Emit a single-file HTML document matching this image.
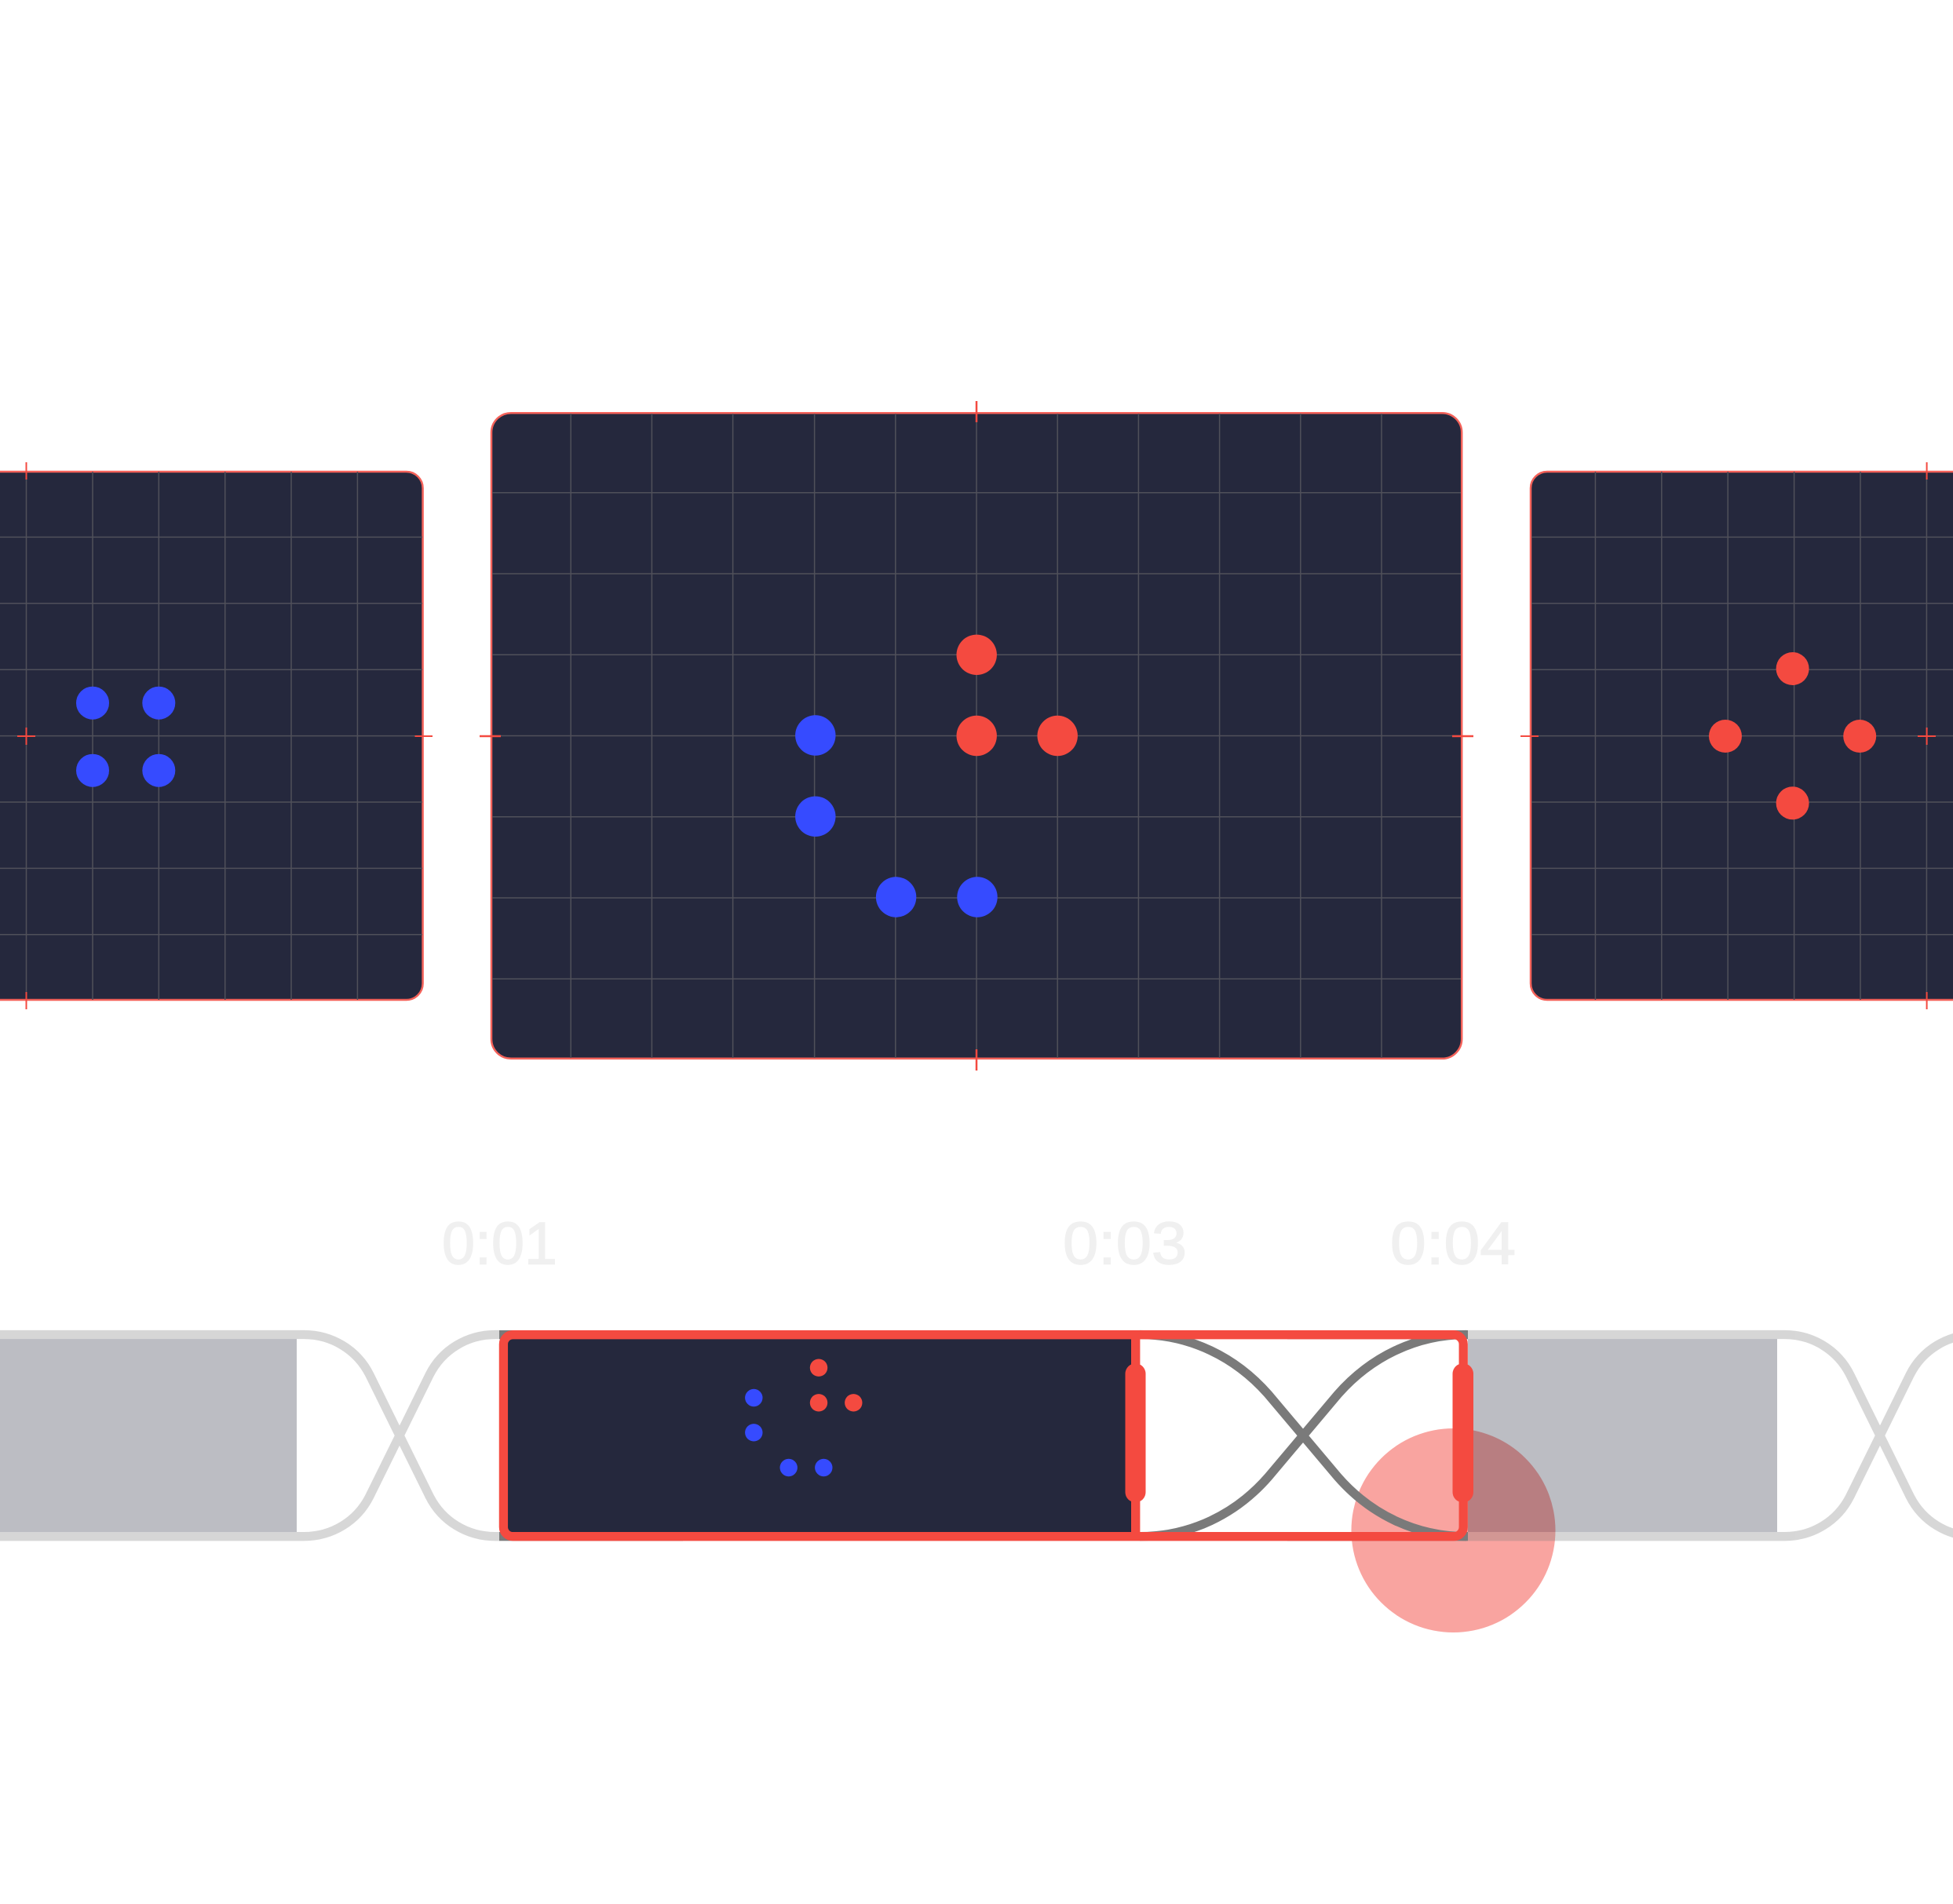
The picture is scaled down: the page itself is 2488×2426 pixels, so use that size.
<!DOCTYPE html>
<html><head><meta charset="utf-8"><style>
html,body{margin:0;padding:0;background:#fff}
svg{display:block}
text{font-family:"Liberation Sans",sans-serif;font-size:76px;fill:#f0f0f0;stroke:#f0f0f0;stroke-width:1.4px}
</style></head><body>
<svg width="2488" height="2426" viewBox="0 0 2488 2426" xmlns="http://www.w3.org/2000/svg">
<rect width="2488" height="2426" fill="#fff"/>

<!-- left panel -->
<rect x="-480" y="601" width="1018.6" height="673" rx="21" fill="#25283d" stroke="#f4625a" stroke-width="2.5"/>
<path fill="none" stroke="#50505a" stroke-width="1.5" d="M33.5 601V1274M118 601V1274M202.3 601V1274M286.7 601V1274M371 601V1274M455.4 601V1274M0 684.4H538M0 768.8H538M0 853.2H538M0 937.6H538M0 1022H538M0 1106.4H538M0 1190.8H538"/>
<g fill="#364bff"><circle cx="118" cy="895.7" r="21"/><circle cx="202.3" cy="895.7" r="21"/><circle cx="118" cy="981.7" r="21"/><circle cx="202.3" cy="981.7" r="21"/></g>
<path fill="none" stroke="#f44a40" stroke-width="2" d="M33.5 589V611M33.5 927V949M22 938H45M33.5 1264V1286M528.5 938H551"/>

<!-- center panel -->
<rect x="626" y="526.2" width="1236.2" height="822.6" rx="25" fill="#25283d" stroke="#f4625a" stroke-width="2.5"/>
<path fill="none" stroke="#50505a" stroke-width="1.5" d="M727.2 527V1348M830.4 527V1348M933.6 527V1348M1037.6 527V1348M1140.8 527V1348M1244 527V1348M1347.2 527V1348M1450.4 527V1348M1553.6 527V1348M1656.8 527V1348M1760 527V1348M627 627.7H1861M627 731H1861M627 834.3H1861M627 937.5H1861M627 1040.8H1861M627 1144H1861M627 1247.3H1861"/>
<g fill="#f44a40"><circle cx="1244.2" cy="834.3" r="25.7"/><circle cx="1244.2" cy="937.5" r="25.7"/><circle cx="1347.2" cy="937.5" r="25.7"/></g>
<g fill="#364bff"><circle cx="1038.8" cy="937" r="25.7"/><circle cx="1038.8" cy="1040.3" r="25.7"/><circle cx="1141.6" cy="1143" r="25.7"/><circle cx="1245" cy="1143" r="25.7"/></g>
<path fill="none" stroke="#f44a40" stroke-width="2.5" d="M1244 511V538M1244 1337V1364M611 938H638M1850 938H1877"/>

<!-- right panel -->
<rect x="1950" y="601" width="1018" height="673" rx="21" fill="#25283d" stroke="#f4625a" stroke-width="2.5"/>
<path fill="none" stroke="#50505a" stroke-width="1.5" d="M2032.4 601V1274M2116.8 601V1274M2201.2 601V1274M2285.6 601V1274M2370 601V1274M2454.4 601V1274M1951 684.4H2488M1951 768.8H2488M1951 853.2H2488M1951 937.6H2488M1951 1022H2488M1951 1106.4H2488M1951 1190.8H2488"/>
<g fill="#f44a40"><circle cx="2283.6" cy="852" r="21"/><circle cx="2198" cy="938" r="21"/><circle cx="2369.2" cy="938" r="21"/><circle cx="2283.6" cy="1023.3" r="21"/></g>
<path fill="none" stroke="#f44a40" stroke-width="2" d="M2454.6 589V611M2454.6 927V949M2443 938H2466M2454.6 1264V1286M1937 938H1960"/>

<!-- time labels -->
<text x="563" y="1610.5" textLength="147" lengthAdjust="spacingAndGlyphs">0:01</text>
<text x="1354" y="1610.5" textLength="158" lengthAdjust="spacingAndGlyphs">0:03</text>
<text x="1771" y="1610.5" textLength="160" lengthAdjust="spacingAndGlyphs">0:04</text>

<!-- pink circle under timeline -->
<circle cx="1851.5" cy="1950" r="130" fill="#f9a4a0"/>

<!-- faded segments -->
<g opacity=".3">
<rect x="0" y="1706" width="378" height="246" fill="#25283d"/>
<path fill="none" stroke="#7a7a7a" stroke-width="11.3" d="M0 1700.5H387C423 1700.5 455 1720 471 1752L547 1906.2C563 1938.2 595 1957.7 631 1957.7H636M0 1957.7H387C423 1957.7 455 1938.2 471 1906.2L547 1752C563 1720 595 1700.5 631 1700.5H636"/>
</g>
<g opacity=".3">
<rect x="1870" y="1706" width="394" height="246" fill="#25283d"/>
<path fill="none" stroke="#7a7a7a" stroke-width="11.3" d="M1870 1700.5H2273C2309 1700.5 2341 1720 2357 1752L2433 1906.2C2449 1938.2 2481 1957.7 2517 1957.7H2522M1870 1957.7H2273C2309 1957.7 2341 1938.2 2357 1906.2L2433 1752C2449 1720 2481 1700.5 2517 1700.5H2522"/>
</g>

<!-- selected segment -->
<rect x="636" y="1695" width="234" height="11.3" fill="#7a7a7a"/>
<rect x="636" y="1952" width="234" height="11.3" fill="#7a7a7a"/>
<rect x="1640" y="1695" width="230" height="11.3" fill="#7a7a7a"/>
<rect x="1640" y="1952" width="230" height="11.3" fill="#7a7a7a"/>
<rect x="641" y="1701" width="805" height="257" rx="12" fill="#25283d"/>
<path fill="none" stroke="#7a7a7a" stroke-width="11.3" d="M1452 1700.5C1516 1700.5 1574 1729 1616 1777L1704 1881.5C1746 1929.8 1804 1957.7 1868 1957.7M1452 1957.7C1516 1957.7 1574 1929.8 1616 1881.5L1704 1777C1746 1729 1804 1700.5 1868 1700.5"/>
<rect x="641.4" y="1700.7" width="1222.8" height="257" rx="12" fill="none" stroke="#f44a40" stroke-width="11.3"/>
<rect x="1441" y="1700" width="11.4" height="258" fill="#f44a40"/>
<rect x="1433.5" y="1737.3" width="26" height="177" rx="13" fill="#f44a40"/>
<rect x="1850.5" y="1737.3" width="26.5" height="177" rx="13" fill="#f44a40"/>
<g fill="#f44a40"><circle cx="1043" cy="1742.7" r="11.2"/><circle cx="1043" cy="1787.3" r="11.2"/><circle cx="1087.3" cy="1787.3" r="11.2"/></g>
<g fill="#364bff"><circle cx="960.3" cy="1781" r="11.2"/><circle cx="960.3" cy="1825.3" r="11.2"/><circle cx="1004.7" cy="1870" r="11.2"/><circle cx="1049.3" cy="1870" r="11.2"/></g>
</svg>
</body></html>
